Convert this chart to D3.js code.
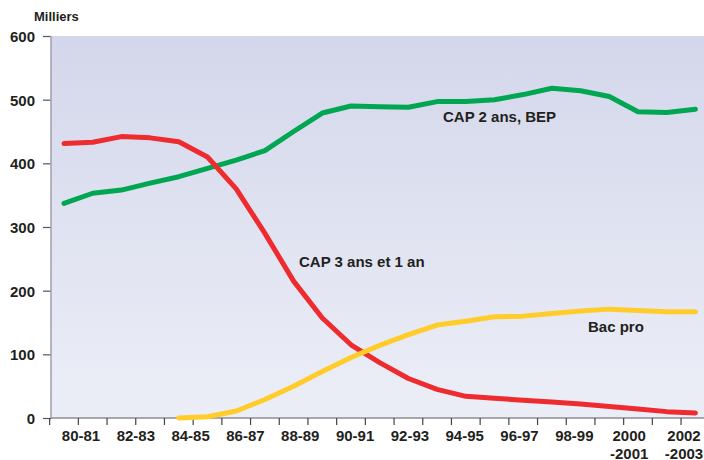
<!DOCTYPE html>
<html>
<head>
<meta charset="utf-8">
<script src="https://cdn.jsdelivr.net/npm/d3@7"></script>
<style>
  html, body { margin: 0; padding: 0; background: #ffffff; }
  svg { display: block; font-family: "Liberation Sans", Arial, Helvetica, sans-serif; }
</style>
</head>
<body>
<svg id="chart" width="704" height="460"></svg>
<script>
// School years (one point per year)
const years = ["80-81","81-82","82-83","83-84","84-85","85-86","86-87","87-88","88-89","89-90",
               "90-91","91-92","92-93","93-94","94-95","95-96","96-97","97-98","98-99","99-00",
               "2000-2001","2001-2002","2002-2003"];

// Axis labels shown every second year (first line / second line)
const yearLabels = [["80-81"],["82-83"],["84-85"],["86-87"],["88-89"],["90-91"],
                    ["92-93"],["94-95"],["96-97"],["98-99"],["2000","-2001"],["2002","-2003"]];

const yTicks = [0, 100, 200, 300, 400, 500, 600];

// Enrolment, thousands
const cap2Bep = [337, 353, 358, 369, 379, 392, 405, 420, 450, 479, 490, 489, 488,
                 497, 497, 500, 508, 518, 514, 505, 481, 480, 485];
const cap3 = [431, 433, 442, 440, 434, 410, 360, 290, 215, 157, 115, 87, 62,
              45, 34, 31, 28, 25, 22, 18, 14, 10, 8];
const bacPro = [null, null, null, null, 0, 2, 11, 29, 50, 73, 95, 114, 131,
                146, 152, 159, 160, 164, 168, 171, 169, 167, 167];

const seriesNames = ["CAP 2 ans, BEP", "CAP 3 ans et 1 an", "Bac pro"];
const seriesColors = ["#00a651", "#ee2b2f", "#ffcc29"];

const svg = d3.select("#chart");
const plot = { left: 51, right: 704, top: 36, bottom: 418 };

const x = d3.scaleLinear().domain([0, years.length - 1]).range([64, 695.4]);
const xLabel = d3.scaleLinear().domain([0, yearLabels.length - 1]).range([81, 684]);
const y = d3.scaleLinear().domain([0, 600]).range([plot.bottom, plot.top]);

// Background gradient
const defs = svg.append("defs");
const grad = defs.append("linearGradient").attr("id", "bg")
  .attr("x1", 0).attr("y1", 0).attr("x2", 0).attr("y2", 1);
grad.append("stop").attr("offset", "0%").attr("stop-color", "#d4d7eb");
grad.append("stop").attr("offset", "100%").attr("stop-color", "#eceef7");

svg.append("rect")
  .attr("x", plot.left).attr("y", plot.top)
  .attr("width", plot.right - plot.left).attr("height", plot.bottom - plot.top)
  .attr("fill", "url(#bg)");

const textColor = "#231f20";

// Y axis
const yAxis = d3.axisLeft(y).tickValues(yTicks).tickSize(8).tickPadding(8);
const gy = svg.append("g").attr("transform", `translate(${plot.left},0)`).call(yAxis);
gy.select(".domain").remove();
gy.selectAll(".tick line").attr("stroke", "#555").attr("stroke-width", 1.2);
gy.selectAll(".tick text")
  .attr("fill", textColor).attr("font-size", 15).attr("font-weight", "bold")
  .attr("dy", "0.36em");
svg.append("line")
  .attr("x1", plot.left).attr("x2", plot.left)
  .attr("y1", plot.top).attr("y2", plot.bottom)
  .attr("stroke", "#a3a4b3").attr("stroke-width", 1.6);

// X axis: boundary ticks between school years
const tickPos = d3.range(years.length).map(i => x(i - 0.5));
svg.append("line")
  .attr("x1", plot.left).attr("x2", plot.right)
  .attr("y1", plot.bottom).attr("y2", plot.bottom)
  .attr("stroke", "#8c8c96").attr("stroke-width", 1.4);
svg.append("g").selectAll("line").data(tickPos).join("line")
  .attr("x1", d => d).attr("x2", d => d)
  .attr("y1", plot.bottom).attr("y2", plot.bottom + 7)
  .attr("stroke", "#444").attr("stroke-width", 1.2);

const lbl = svg.append("g").selectAll("text").data(yearLabels).join("text")
  .attr("x", (d, i) => xLabel(i))
  .attr("y", 441)
  .attr("text-anchor", "middle")
  .attr("fill", textColor).attr("font-size", 15).attr("font-weight", "bold");
lbl.selectAll("tspan").data(d => d).join("tspan")
  .attr("x", function () { return d3.select(this.parentNode).attr("x"); })
  .attr("dy", (d, i) => i === 0 ? 0 : 17.5)
  .text(d => d);

// Unit label
svg.append("text").attr("x", 34).attr("y", 21)
  .attr("fill", textColor).attr("font-size", 13).attr("font-weight", "bold")
  .text("Milliers");

// Series lines
const line = d3.line()
  .defined(d => d != null)
  .x((d, i) => x(i))
  .y(d => y(d));

[cap2Bep, cap3, bacPro].forEach((vals, k) => {
  svg.append("path")
    .datum(vals)
    .attr("d", line)
    .attr("fill", "none")
    .attr("stroke", seriesColors[k])
    .attr("stroke-width", 5)
    .attr("stroke-linejoin", "round")
    .attr("stroke-linecap", "round");
});

// Series labels
const seriesLabelPos = [[443, 121.5], [299, 266.5], [588, 332]];
seriesNames.forEach((name, k) => {
  svg.append("text")
    .attr("x", seriesLabelPos[k][0]).attr("y", seriesLabelPos[k][1])
    .attr("fill", textColor).attr("font-size", 15).attr("font-weight", "bold")
    .text(name);
});
</script>
</body>
</html>
